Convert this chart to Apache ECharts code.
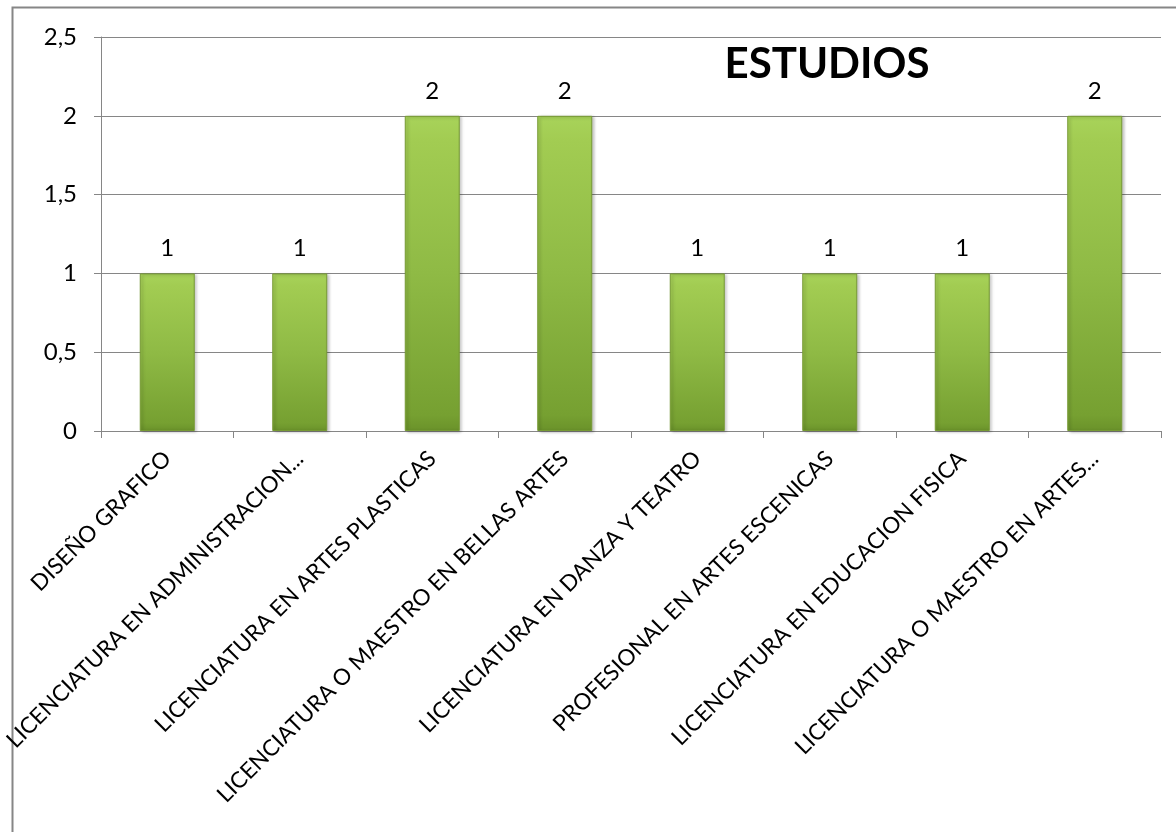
<!DOCTYPE html>
<html><head><meta charset="utf-8">
<script src="https://cdn.jsdelivr.net/npm/echarts@6/dist/echarts.min.js"></script>
<style>html,body{margin:0;padding:0;background:#fff}#c{width:1176px;height:832px}</style>
</head><body><div id="c"></div>
<script>
const categories = ['DISEÑO GRAFICO','LICENCIATURA EN ADMINISTRACION...','LICENCIATURA EN ARTES PLASTICAS','LICENCIATURA O MAESTRO EN BELLAS ARTES','LICENCIATURA EN DANZA Y TEATRO','PROFESIONAL EN ARTES ESCENICAS','LICENCIATURA EN EDUCACION FISICA','LICENCIATURA O MAESTRO EN ARTES...'];
const values = [1,1,2,2,1,1,1,2];
const yTicks = [0,0.5,1,1.5,2,2.5];
const title = 'ESTUDIOS';
const font = 'Lato, "Open Sans", sans-serif';
const chart = echarts.init(document.getElementById('c'));
chart.setOption({
  animation:false,
  title:{text:title,left:822,top:38,textAlign:'center',textStyle:{fontFamily:font,fontSize:42,fontWeight:'bold',color:'#000'}},
  graphic:[{type:'rect',shape:{x:12.5,y:7.5,width:1200,height:900},style:{fill:'none',stroke:'#868686',lineWidth:2},silent:true,z:-10}],
  grid:{left:101,right:15,top:37,bottom:401,containLabel:false,outerBoundsMode:'none'},
  xAxis:{type:'category',data:categories,
    axisLine:{lineStyle:{color:'#868686',width:1}},
    axisTick:{show:true,length:7,lineStyle:{color:'#868686'}},
    axisLabel:{rotate:45,interval:0,margin:24,fontFamily:font,fontSize:22.5,color:'#000'}},
  yAxis:{type:'value',min:0,max:2.5,interval:0.5,
    axisLine:{show:true,lineStyle:{color:'#868686'}},
    axisTick:{show:true,length:7,lineStyle:{color:'#868686'}},
    splitLine:{lineStyle:{color:'#868686',width:1}},
    axisLabel:{margin:24,fontFamily:font,fontSize:24,color:'#000',formatter:v=>{const s=yTicks.find(t=>Math.abs(t-v)<1e-9);return String(s).replace('.',',');}}},
  series:[{type:'bar',data:values,barWidth:55,
    itemStyle:{borderColor:'#779a34',borderWidth:1,shadowColor:'rgba(0,0,0,0.25)',shadowBlur:3,shadowOffsetX:2,shadowOffsetY:1,
      color:new echarts.graphic.LinearGradient(0,0,0,1,[{offset:0,color:'#a8d35a'},{offset:0.08,color:'#a2cc52'},{offset:0.5,color:'#8fba45'},{offset:0.95,color:'#76a031'},{offset:1,color:'#6a922a'}])},
    label:{show:true,position:'top',distance:13,fontFamily:font,fontSize:24,color:'#000'}}]
});
</script></body></html>
